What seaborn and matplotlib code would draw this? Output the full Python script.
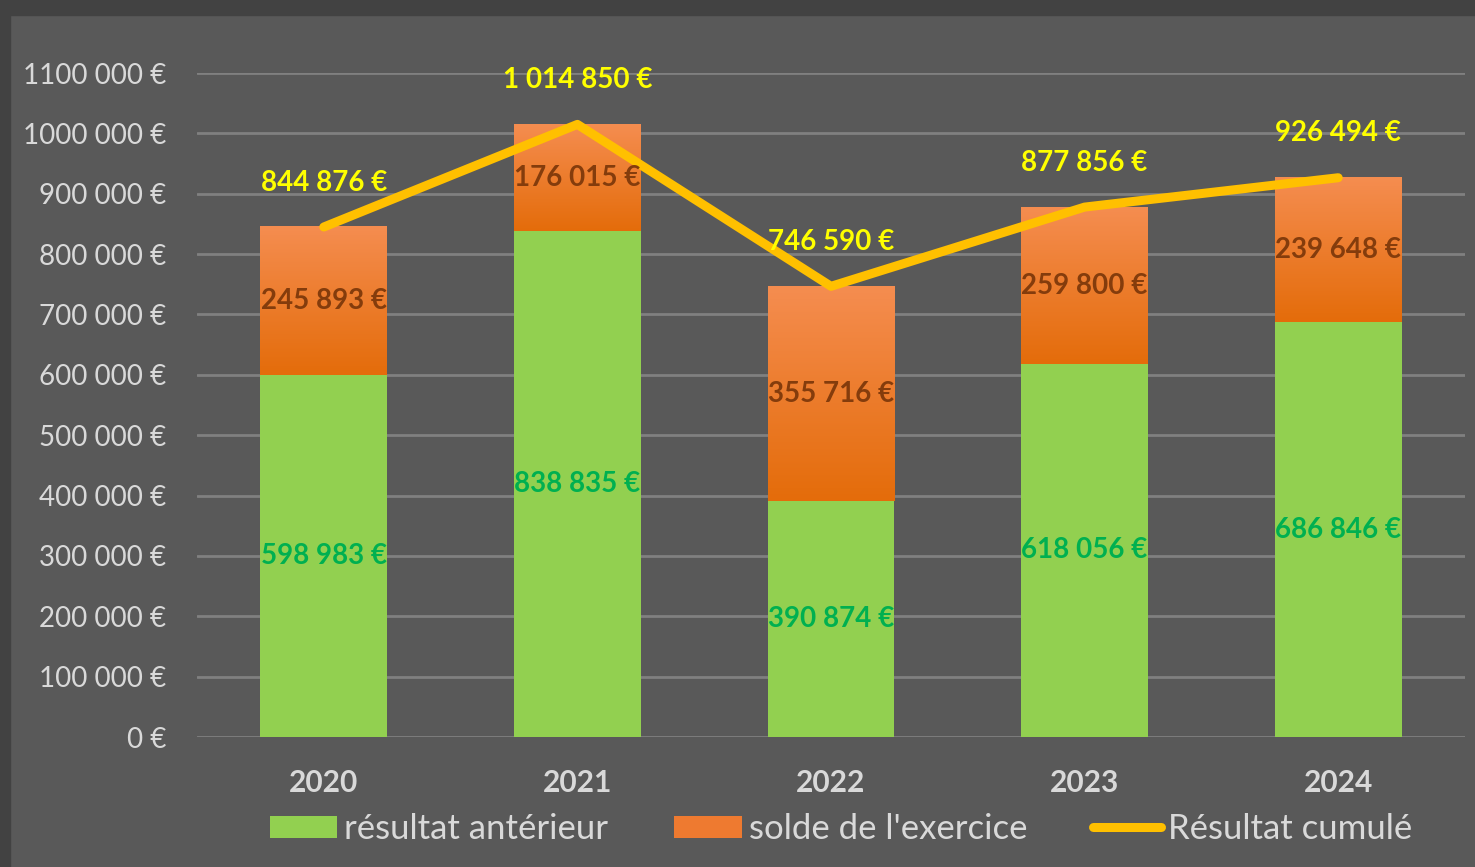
import numpy as np
import matplotlib
matplotlib.use("Agg")
import matplotlib.pyplot as plt
import seaborn as sns
from matplotlib.colors import LinearSegmentedColormap
from matplotlib.patches import Patch, Rectangle
from matplotlib.lines import Line2D

# --- données ---
annees = ["2020", "2021", "2022", "2023", "2024"]
resultat_anterieur = [598983, 838835, 390874, 618056, 686846]
solde_exercice = [245893, 176015, 355716, 259800, 239648]
resultat_cumule = [844876, 1014850, 746590, 877856, 926494]
ticks_y = [0, 100000, 200000, 300000, 400000, 500000, 600000, 700000,
           800000, 900000, 1000000, 1100000]
ticks_y_labels = ["0 €", "100 000 €", "200 000 €", "300 000 €", "400 000 €",
                  "500 000 €", "600 000 €", "700 000 €", "800 000 €",
                  "900 000 €", "1000 000 €", "1100 000 €"]
noms_series = ["résultat antérieur", "solde de l'exercice", "Résultat cumulé"]

sns.set_style("dark")
plt.rcParams['font.family'] = ['Lato', 'DejaVu Sans']

FOND = "#595959"
VERT = "#92D050"
ORANGE_HAUT = "#F58D50"
ORANGE_BAS = "#E46C0A"
JAUNE_LIGNE = "#FFC000"
GRIS_TEXTE = "#D9D9D9"


def euros(v):
    return f"{v:,}".replace(",", " ") + " €"


fig = plt.figure(figsize=(14.75, 8.67), dpi=100, facecolor=FOND)
ax = fig.add_axes([197 / 1475, 130 / 867, 1268 / 1475, 664 / 867])
ax.set_facecolor(FOND)

# bords sombres du cadre
fig.patches.append(Rectangle((0, 1 - 15 / 867), 1, 15 / 867, transform=fig.transFigure,
                             color="#424242", zorder=0))
fig.patches.append(Rectangle((0, 0), 10 / 1475, 1, transform=fig.transFigure,
                             color="#424242", zorder=0))

# barres totales (orange), puis dégradé sur la partie "solde"
sns.barplot(x=annees, y=resultat_cumule, color=ORANGE_BAS, saturation=1,
            width=0.5, linewidth=0, ax=ax, zorder=2)
cmap_orange = LinearSegmentedColormap.from_list("orange", [ORANGE_BAS, ORANGE_HAUT])
grad = np.linspace(0, 1, 256).reshape(-1, 1)
for i, p in enumerate(ax.patches):
    x0, w = p.get_x(), p.get_width()
    ax.imshow(grad, extent=(x0, x0 + w, resultat_anterieur[i], resultat_cumule[i]),
              origin="lower", aspect="auto", cmap=cmap_orange, zorder=2.5)

# barres vertes
sns.barplot(x=annees, y=resultat_anterieur, color=VERT, saturation=1,
            width=0.5, linewidth=0, ax=ax, zorder=3)

# courbe résultat cumulé
sns.lineplot(x=np.arange(len(annees)), y=resultat_cumule, color=JAUNE_LIGNE, lw=6.5,
             solid_capstyle="round", solid_joinstyle="round", ax=ax, zorder=5)

# étiquettes
for i in range(len(annees)):
    a, s, c = resultat_anterieur[i], solde_exercice[i], resultat_cumule[i]
    ax.text(i, a / 2, euros(a), ha="center", va="center", color="#00B050",
            fontsize=20, fontweight="bold", zorder=6)
    ax.text(i, a + s / 2, euros(s), ha="center", va="center", color="#843C0C",
            fontsize=20, fontweight="bold", zorder=6)
    ax.annotate(euros(c), (i, c), xytext=(0, 32), textcoords="offset points",
                ha="center", va="center", color="#FFFF00", fontsize=20,
                fontweight="bold", zorder=6)

ax.set_xlim(-0.5, len(annees) - 0.5)
ax.set_ylim(0, 1100000)
ax.set_yticks(ticks_y)
ax.set_yticklabels(ticks_y_labels)
ax.grid(axis="y", color="#808080", lw=2)
ax.grid(axis="x", visible=False)
ax.set_axisbelow(True)
for sp in ax.spines.values():
    sp.set_visible(False)
ax.tick_params(axis="y", length=0, pad=22, labelsize=20, labelcolor=GRIS_TEXTE)
ax.tick_params(axis="x", length=0, pad=23, labelsize=21.5, labelcolor=GRIS_TEXTE)
for lab in ax.get_xticklabels():
    lab.set_fontweight("bold")
ax.set_xlabel("")
ax.set_ylabel("")

handles = [Patch(facecolor=VERT, edgecolor="none"),
           Patch(facecolor="#EE7A30", edgecolor="none"),
           Line2D([0], [0], color=JAUNE_LIGNE, lw=6.5, solid_capstyle="round")]
leg = fig.legend(handles, noms_series, loc="center", ncol=3,
                 bbox_to_anchor=(841 / 1475, 38 / 867), frameon=False,
                 fontsize=25, labelcolor=GRIS_TEXTE, handlelength=1.95,
                 handleheight=0.6, handletextpad=0.2, columnspacing=1.9)

fig.savefig("out.png", dpi=100, facecolor=FOND)
